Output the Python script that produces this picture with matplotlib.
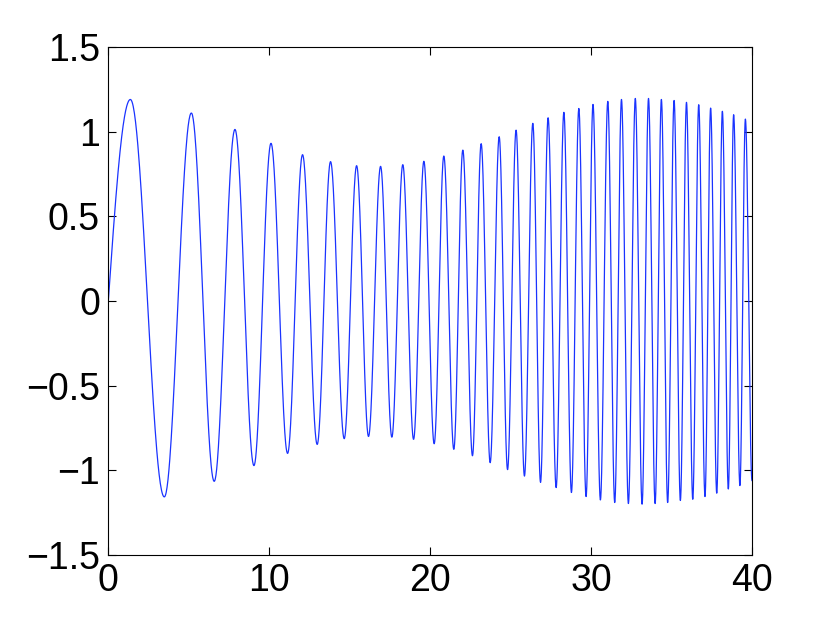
import numpy as np
import matplotlib
matplotlib.use("Agg")
import matplotlib.pyplot as plt

# Extrema (time, value)
peak_t = [1.37, 5.16, 7.87, 10.11, 12.07, 13.81, 15.43, 16.92, 18.30, 19.61,
          20.85, 22.03, 23.17, 24.29, 25.34, 26.38, 27.33, 28.31, 29.24, 30.12,
          31.04, 31.89, 32.75, 33.57, 34.37, 35.16, 35.93, 36.69, 37.43, 38.16,
          38.86, 39.59]
peak_v = [1.19, 1.11, 1.013, 0.931, 0.864, 0.823, 0.799, 0.795, 0.805, 0.825,
          0.856, 0.891, 0.929, 0.970, 1.009, 1.049, 1.082, 1.114, 1.137, 1.161,
          1.179, 1.19, 1.196, 1.196, 1.19, 1.184, 1.173, 1.159, 1.139, 1.12,
          1.10, 1.074]
trough_t = [3.48, 6.58, 9.05, 11.14, 12.98, 14.66, 16.17, 17.62, 18.97, 20.25,
            21.47, 22.63, 23.73, 24.81, 25.86, 26.86, 27.83, 28.78, 29.69, 30.58,
            31.47, 32.32, 33.17, 33.98, 34.76, 35.55, 36.32, 37.08, 37.81, 38.53,
            39.25, 40.0]
trough_v = [-1.157, -1.065, -0.972, -0.90, -0.847, -0.813, -0.80, -0.804, -0.817, -0.843,
            -0.876, -0.914, -0.955, -0.996, -1.034, -1.071, -1.102, -1.131, -1.155, -1.175,
            -1.19, -1.196, -1.2, -1.196, -1.19, -1.178, -1.171, -1.155, -1.135, -1.11,
            -1.09, -1.06]
start_t, start_v = 0.0, 0.0

xticks = [0, 10, 20, 30, 40]
yticks = [-1.5, -1, -0.5, 0, 0.5, 1, 1.5]
yticklabels = ["\u22121.5", "\u22121", "\u22120.5", "0", "0.5", "1", "1.5"]

# Merge extrema in time order
ext_t = []
ext_v = []
for pt, pv, tt, tv in zip(peak_t, peak_v, trough_t, trough_v):
    ext_t += [pt, tt]
    ext_v += [pv, tv]

# Smooth half-wave rendering between successive extrema
xs = []
ys = []
s = np.linspace(0, 1, 80)
xs.append(start_t + s * (ext_t[0] - start_t))
ys.append(start_v + (ext_v[0] - start_v) * np.sin(np.pi / 2 * s))
for i in range(len(ext_t) - 1):
    t0, t1 = ext_t[i], ext_t[i + 1]
    v0, v1 = ext_v[i], ext_v[i + 1]
    s = np.linspace(0, 1, 60)[1:]
    xs.append(t0 + s * (t1 - t0))
    ys.append((v0 + v1) / 2 + (v0 - v1) / 2 * np.cos(np.pi * s))
x = np.concatenate(xs)
y = np.concatenate(ys)

plt.rcParams['font.family'] = ['Liberation Sans', 'DejaVu Sans']
fig = plt.figure(figsize=(8.3, 6.24), dpi=100)
ax = fig.add_axes([0.1305, 0.1106, 0.7755, 0.8141])
ax.plot(x, y, color=(0.1, 0.2, 1.0), linewidth=0.9)
ax.set_xlim(0, 40)
ax.set_ylim(-1.5, 1.5)
ax.set_xticks(xticks)
ax.set_xticklabels([str(v) for v in xticks])
ax.set_yticks(yticks)
ax.set_yticklabels(yticklabels)
ax.tick_params(direction='in', length=6, width=0.8, top=True, right=True,
               labelsize=27, pad=6)
for sp in ax.spines.values():
    sp.set_linewidth(0.8)
fig.savefig("out.png", dpi=100)
